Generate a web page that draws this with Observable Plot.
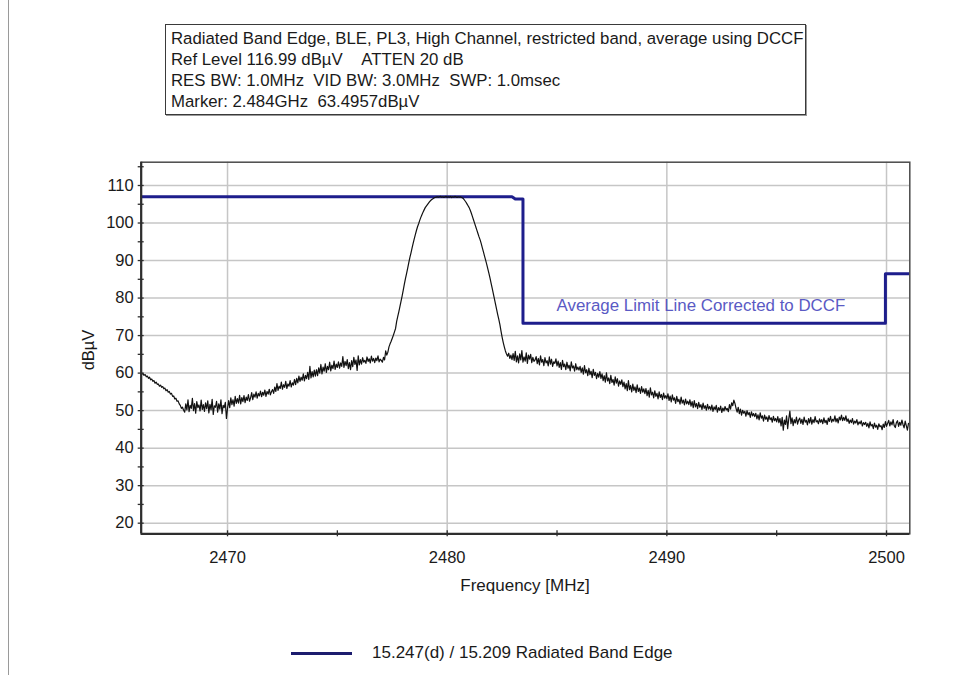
<!DOCTYPE html>
<html>
<head>
<meta charset="utf-8">
<script src="https://cdn.jsdelivr.net/npm/d3@7"></script>
<script src="https://cdn.jsdelivr.net/npm/@observablehq/plot@0.6"></script>
<style>
  body { margin: 0; background: #fff; font-family: "Liberation Sans", Arial, sans-serif; color: #1a1a1a; }
  #page { position: relative; width: 954px; height: 675px; overflow: hidden; background: #fff; }
  #edge { position: absolute; left: 8px; top: 0; width: 1px; height: 675px; background: #9a9a9a; }
  #info { position: absolute; left: 165px; top: 24px; width: 641px; height: 91px; border: 1px solid #3a3a3a;
          box-shadow: 1px 1px 0 #9a9a9a; font-size: 16.8px; line-height: 21px; padding: 3px 0 0 5px; box-sizing: border-box; white-space: nowrap; }
  #ylab { position: absolute; left: 88px; top: 350px; transform: translate(-50%, -50%) rotate(-90deg); font-size: 16.5px; white-space: nowrap; }
  #xlab { position: absolute; left: 525px; top: 586px; transform: translate(-50%, -50%); font-size: 17px; white-space: nowrap; }
  #legend { position: absolute; left: 291px; top: 642px; height: 22px; display: flex; align-items: center; font-size: 17px; white-space: nowrap; }
  #legend .swatch { width: 61px; height: 3px; background: #1c1c6e; margin-right: 20px; }
  #chart { position: absolute; left: 0; top: 0; }
</style>
</head>
<body>
<div id="page">
  <div id="edge"></div>
  <div id="chart"></div>
  <div id="info"></div>
  <div id="ylab"></div>
  <div id="xlab"></div>
  <div id="legend"><div class="swatch"></div><span id="legendText"></span></div>
</div>
<script>
// Analyzer settings shown in the header box
const infoLines = [
  "Radiated Band Edge, BLE, PL3, High Channel, restricted band, average using DCCF",
  "Ref Level 116.99 dB\u00b5V\u00a0\u00a0\u00a0\u00a0ATTEN 20 dB",
  "RES BW: 1.0MHz\u00a0\u00a0VID BW: 3.0MHz\u00a0\u00a0SWP: 1.0msec",
  "Marker: 2.484GHz\u00a0\u00a063.4957dB\u00b5V"
];
const xLabel = "Frequency [MHz]";
const yLabel = "dB\u00b5V";
const legendLabel = "15.247(d) / 15.209 Radiated Band Edge";
const limitNote = "Average Limit Line Corrected to DCCF";

// Axis extents and ticks
const freqDomain = [2466.07, 2501.06];
const levelDomain = [17.17, 116.21];
const freqLabels = [2470, 2480, 2490, 2500];
const freqTickMarks = [2470, 2475, 2480, 2485, 2490, 2495, 2500];
const levelLabels = [20, 30, 40, 50, 60, 70, 80, 90, 100, 110];
const levelTickMarks = [20, 25, 30, 35, 40, 45, 50, 55, 60, 65, 70, 75, 80, 85, 90, 95, 100, 105, 110, 115];

// Limit line (MHz, dBµV)
const limitFreq  = [2466.07, 2482.95, 2483.1, 2483.45, 2483.45, 2499.95, 2499.95, 2501.06];
const limitLevel = [107.0,   107.0,   106.4,  106.4,   73.3,    73.3,    86.5,    86.5];

// Measured sweep: first point 2466.05 MHz, 0.05 MHz per point, one row per MHz
const sweepStart = 2466.05;
const sweepStep = 0.05;
const traceLevel = [
  60.0, 59.7, 59.9, 59.4, 59.6, 59.0, 59.2, 58.6, 58.9, 58.2, 58.4, 57.8, 58.0, 57.3, 57.6, 57.0, 57.1, 56.5, 56.8, 56.2, // 2466
  56.4, 55.8, 56.0, 55.3, 55.6, 54.9, 55.1, 54.4, 54.6, 53.8, 53.9, 53.1, 53.3, 52.5, 52.6, 51.8, 51.4, 50.6, 50.9, 50.1, // 2467
  49.6, 51.8, 50.2, 52.9, 49.7, 51.4, 50.6, 53.3, 50.0, 51.9, 49.3, 52.4, 50.8, 51.5, 49.9, 52.8, 50.3, 51.6, 49.8, 52.1, // 2468
  50.5, 52.6, 49.4, 51.7, 50.2, 53.0, 49.0, 51.3, 50.9, 52.5, 49.6, 51.8, 50.4, 52.9, 49.2, 51.4, 50.8, 52.2, 47.9, 50.6, // 2469
  52.7, 50.8, 53.4, 51.6, 52.9, 51.2, 53.8, 51.9, 53.2, 52.0, 54.1, 51.8, 53.5, 52.4, 54.0, 52.1, 53.6, 52.7, 54.3, 52.5, // 2470
  53.4, 54.8, 52.9, 54.4, 53.6, 55.0, 53.3, 54.6, 53.9, 55.2, 53.7, 54.9, 54.1, 55.5, 53.8, 55.1, 54.4, 55.7, 54.2, 55.0, // 2471
  55.6, 54.6, 56.3, 55.1, 57.2, 55.4, 56.5, 55.9, 57.6, 55.7, 56.9, 56.2, 57.8, 55.9, 57.1, 56.5, 58.0, 56.3, 57.4, 56.8, // 2472
  58.3, 56.9, 58.6, 57.4, 59.2, 57.8, 58.9, 58.1, 59.8, 57.9, 59.4, 58.5, 60.2, 58.3, 61.8, 58.7, 60.4, 59.0, 60.8, 59.2, // 2473
  60.9, 59.3, 61.4, 60.0, 62.3, 59.8, 61.6, 60.5, 62.5, 60.2, 61.8, 60.9, 62.9, 60.6, 62.1, 61.2, 63.2, 61.0, 62.4, 61.5, // 2474
  63.0, 61.3, 62.7, 61.8, 64.4, 61.5, 63.1, 62.0, 63.6, 61.2, 62.8, 60.9, 63.3, 61.7, 64.2, 62.3, 63.5, 60.7, 64.6, 62.2, // 2475
  63.6, 62.4, 64.1, 62.9, 63.4, 62.6, 64.3, 63.1, 63.8, 62.7, 64.5, 63.2, 63.9, 62.8, 64.0, 63.3, 64.6, 63.0, 63.7, 63.4, // 2476
  62.9, 64.2, 63.5, 65.9, 64.8, 65.6, 67.0, 67.8, 68.5, 69.3, 70.1, 71.0, 71.9, 73.8, 75.1, 76.4, 77.8, 79.2, 80.6, 82.1, // 2477
  83.7, 85.2, 86.5, 87.9, 89.4, 90.8, 92.0, 93.3, 94.6, 95.8, 96.9, 98.0, 99.0, 99.8, 100.7, 101.5, 102.2, 102.9, 103.5, 104.1, // 2478
  104.5, 104.9, 105.3, 105.7, 106.0, 106.3, 106.5, 106.7, 106.8, 106.9, 107.0, 106.9, 107.0, 107.1, 106.9, 107.0, 106.8, 107.0, 107.1, 106.9, // 2479
  107.0, 106.9, 107.1, 106.8, 107.0, 106.9, 107.1, 107.0, 106.8, 107.0, 106.9, 107.0, 106.8, 106.7, 106.4, 106.0, 105.6, 105.1, 104.6, 104.1, // 2480
  103.4, 102.6, 101.7, 100.8, 99.9, 99.0, 98.1, 97.2, 96.3, 95.5, 94.5, 93.4, 92.3, 91.2, 90.1, 89.0, 87.8, 86.6, 85.3, 83.9, // 2481
  82.6, 81.2, 79.8, 78.4, 77.0, 75.6, 74.3, 72.9, 71.2, 69.6, 68.2, 67.0, 65.9, 65.1, 64.5, 65.3, 63.9, 64.8, 63.6, 65.2, // 2482
  63.4, 65.8, 63.0, 64.6, 62.7, 65.1, 63.5, 66.0, 62.9, 64.3, 63.2, 65.4, 62.6, 64.8, 63.7, 65.0, 62.8, 64.2, 63.1, 63.5, // 2483
  64.4, 62.5, 63.9, 62.2, 64.6, 62.9, 63.6, 62.0, 64.1, 62.7, 63.3, 61.9, 64.3, 62.4, 63.7, 61.8, 63.0, 62.6, 63.8, 61.9, // 2484
  63.2, 61.5, 62.8, 61.0, 63.4, 61.7, 62.4, 60.9, 62.9, 61.3, 62.1, 60.6, 63.0, 61.4, 61.9, 60.5, 62.5, 60.9, 61.6, 60.8, // 2485
  61.8, 60.2, 61.4, 59.7, 62.0, 60.1, 60.9, 59.3, 61.3, 59.6, 60.5, 58.8, 61.0, 59.4, 60.2, 58.5, 59.9, 58.9, 60.4, 58.6, // 2486
  59.8, 58.0, 59.3, 57.6, 60.1, 57.9, 58.7, 57.2, 59.4, 57.5, 58.3, 56.8, 59.0, 57.3, 58.5, 56.5, 57.9, 57.0, 58.2, 56.4, // 2487
  57.6, 55.8, 57.2, 55.3, 58.0, 55.6, 56.7, 55.0, 57.1, 55.4, 56.3, 54.8, 56.9, 55.1, 56.0, 54.6, 56.4, 54.9, 55.8, 54.5, // 2488
  55.9, 54.0, 55.4, 53.6, 56.1, 54.2, 54.9, 53.4, 55.3, 53.8, 54.6, 53.1, 55.0, 53.5, 54.3, 52.9, 54.7, 53.3, 54.0, 53.2, // 2489
  54.5, 52.7, 53.9, 52.3, 54.2, 52.8, 53.4, 51.9, 53.8, 52.4, 53.0, 51.7, 53.6, 52.0, 52.8, 51.5, 53.1, 51.8, 52.5, 51.6, // 2490
  52.9, 51.2, 52.4, 50.8, 52.7, 51.0, 51.9, 50.5, 52.2, 50.9, 51.6, 50.3, 52.0, 50.6, 51.3, 50.1, 51.7, 50.4, 51.1, 50.2, // 2491
  51.5, 49.8, 51.0, 50.3, 51.4, 49.6, 50.8, 50.1, 51.2, 49.5, 50.7, 49.9, 51.1, 50.2, 50.6, 49.7, 51.6, 50.4, 52.1, 51.3, // 2492
  52.8, 51.9, 50.6, 49.6, 50.9, 49.2, 50.4, 48.8, 50.1, 49.3, 49.8, 48.5, 50.0, 48.9, 49.5, 48.2, 49.7, 48.6, 49.2, 48.4, // 2493
  49.3, 47.8, 48.9, 47.5, 49.4, 48.0, 48.6, 47.2, 48.8, 47.7, 48.3, 47.1, 48.7, 47.6, 48.1, 46.9, 48.5, 47.3, 47.9, 47.0, // 2494
  48.4, 46.8, 47.9, 45.9, 48.2, 44.8, 47.5, 46.3, 48.6, 45.2, 47.8, 49.9, 46.5, 48.1, 46.0, 47.6, 46.7, 48.3, 46.4, 47.5, // 2495
  48.0, 46.6, 47.7, 46.3, 48.3, 46.9, 47.4, 46.2, 47.9, 46.7, 48.2, 46.4, 47.6, 46.8, 48.4, 47.0, 47.3, 46.5, 47.8, 46.9, // 2496
  47.6, 46.5, 48.1, 46.8, 47.4, 46.3, 48.0, 47.1, 48.5, 46.9, 47.7, 47.2, 48.6, 47.0, 47.9, 46.7, 48.3, 47.5, 48.8, 47.3, // 2497
  48.2, 47.4, 48.6, 47.1, 47.8, 46.6, 47.5, 46.8, 47.9, 46.4, 47.2, 46.7, 47.6, 46.2, 47.0, 46.5, 47.3, 45.9, 46.8, 46.3, // 2498
  46.9, 45.8, 46.6, 45.4, 47.0, 45.9, 46.3, 45.2, 46.7, 45.6, 46.1, 45.0, 46.5, 45.7, 46.0, 44.9, 46.4, 45.5, 47.1, 45.8, // 2499
  46.6, 47.4, 45.9, 47.0, 46.2, 47.6, 46.0, 45.5, 46.8, 47.3, 45.8, 46.9, 46.1, 47.5, 46.3, 45.4, 47.2, 46.0, 44.8, 46.6  // 2500
];

const trace = traceLevel.map((v, i) => ({ f: sweepStart + i * sweepStep, v }));
const limit = limitFreq.map((f, i) => ({ f, v: limitLevel[i] }));

const gridStyle = { stroke: "#c6c6c6", strokeOpacity: 1, strokeWidth: 1.5 };
const tickStyle = { stroke: "#2e2e2e", strokeWidth: 1.3 };

const chart = Plot.plot({
  width: 954,
  height: 675,
  marginLeft: 140.7,
  marginRight: 44.7,
  marginTop: 161.7,
  marginBottom: 141.7,
  style: { background: "transparent", fontFamily: "'Liberation Sans', Arial, sans-serif", fontSize: "16.5px", color: "#1a1a1a" },
  x: { domain: freqDomain },
  y: { domain: levelDomain },
  marks: [
    Plot.gridX(freqLabels, gridStyle),
    Plot.gridY(levelLabels, gridStyle),
    Plot.line(limit, { x: "f", y: "v", stroke: "#1e1e8c", strokeWidth: 3, clip: true }),
    Plot.line(trace, { x: "f", y: "v", stroke: "#111", strokeWidth: 1.2, clip: true }),
    Plot.text([limitNote], { x: 2491.55, y: 78.1, text: d => d, fill: "#5a5ac4", fontSize: 16.9 }),
    Plot.frame({ stroke: "#4a4a4a", strokeWidth: 1.5 }),
    Plot.ruleX([freqDomain[0]], { stroke: "#2e2e2e", strokeWidth: 2.2 }),
    Plot.ruleY([levelDomain[0]], { stroke: "#2e2e2e", strokeWidth: 2.2 }),
    // crossing tick marks on the left and bottom edges
    Plot.axisX(freqTickMarks, { text: null, tickSize: 6, dy: -3, ...tickStyle, label: null }),
    Plot.axisY(levelTickMarks, { text: null, tickSize: 6, dx: 3, ...tickStyle, label: null }),
    Plot.axisX(freqLabels, { tickSize: 0, tickPadding: 17, fontSize: 16.5, tickFormat: d => String(d), label: null }),
    Plot.axisY(levelLabels, { tickSize: 0, tickPadding: 7.5, fontSize: 16.5, label: null })
  ]
});
document.getElementById("chart").appendChild(chart);

document.getElementById("info").innerHTML = infoLines.map(t => `<div>${t}</div>`).join("");
document.getElementById("ylab").textContent = yLabel;
document.getElementById("xlab").textContent = xLabel;
document.getElementById("legendText").textContent = legendLabel;
</script>
</body>
</html>
